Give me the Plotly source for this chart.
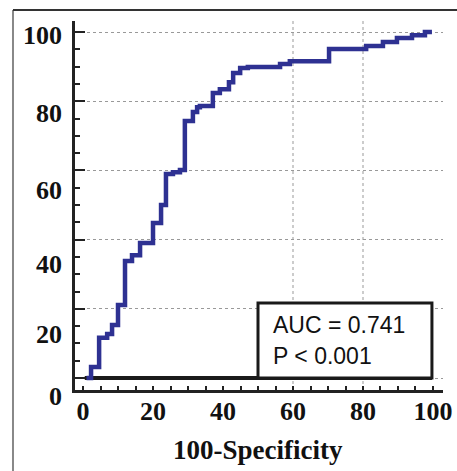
import plotly.graph_objects as go

# ROC curve (step points: 100-Specificity, Sensitivity)
fpr = [1.0, 2.3, 4.6, 6.9, 8.3, 10.0, 12.0, 14.0, 16.3, 20.0, 22.3, 23.7, 25.7,
       27.7, 29.1, 31.4, 32.6, 33.4, 37.1, 39.1, 41.7, 42.9, 44.9, 47.1, 56.3,
       59.1, 70.3, 80.9, 85.7, 89.7, 94.0, 97.7, 99.7]
tpr = [0.0, 3.2, 11.6, 12.7, 15.3, 21.1, 33.8, 35.5, 39.0, 44.8, 50.0, 59.0, 59.5,
       60.1, 74.3, 76.9, 78.3, 78.6, 82.4, 83.5, 85.5, 88.2, 89.6, 89.9, 90.8,
       91.6, 95.1, 96.0, 97.1, 98.3, 99.1, 100.0, 100.0]

x_ticks = [0, 20, 40, 60, 80, 100]
x_tick_labels = ["0", "20", "40", "60", "80", "100"]
y_ticks = [0, 20, 40, 60, 80, 100]
y_tick_labels = ["100", "80", "60", "40", "20", "0"]
y_label_pos = [99.1, 76.6, 54.3, 32.7, 12.7, -5.3]
x_grid_vertical = [60, 80]

auc_text = "AUC = 0.741"
p_text = "P < 0.001"
x_title = "100-Specificity"

XR = [-2.29, 102.86]
YR = [-3.47, 103.2]

W, H = 457, 471
M = dict(l=75, r=14, t=21, b=81)
px_per_unit_y = (H - M["t"] - M["b"]) / (YR[1] - YR[0])

serif = "Liberation Serif, Times New Roman, serif"
axis_col = "#222222"

fig = go.Figure()
fig.add_trace(go.Scatter(x=fpr, y=tpr, mode="lines", line=dict(color="#2E3192", width=4.5, shape="hv"),
                         showlegend=False, hoverinfo="skip"))

shapes = []
for gx in x_grid_vertical:
    shapes.append(dict(type="line", xref="x", yref="y", x0=gx, x1=gx, y0=YR[0], y1=YR[1],
                       line=dict(color="#999999", width=1, dash="dot"), layer="below"))
# black baseline at y=0
shapes.append(dict(type="line", xref="x", yref="y", x0=0.5, x1=99.7, y0=0, y1=0,
                   line=dict(color="#1a1a1a", width=4), layer="between"))
# AUC box
shapes.append(dict(type="rect", xref="x", yref="y", x0=50, x1=99.7, y0=0, y1=21.7,
                   line=dict(color="#1a1a1a", width=3), fillcolor="white", layer="above"))
# outer frame
shapes.append(dict(type="line", xref="paper", yref="paper", x0=-0.1685, x1=-0.1685, y0=-0.25, y1=1.0298,
                   line=dict(color="#888888", width=2)))
shapes.append(dict(type="line", xref="paper", yref="paper", x0=-0.1685, x1=1.1, y0=1.0298, y1=1.0298,
                   line=dict(color="#333333", width=2)))

annotations = [
    dict(x=53.7, y=15.2, xref="x", yref="y", text=auc_text, showarrow=False, xanchor="left", yanchor="middle",
         font=dict(family="Liberation Sans, Arial, sans-serif", size=23, color="#111111")),
    dict(x=53.7, y=6.4, xref="x", yref="y", text=p_text, showarrow=False, xanchor="left", yanchor="middle",
         font=dict(family="Liberation Sans, Arial, sans-serif", size=23, color="#111111")),
    dict(x=0.496, y=-0.1626, xref="paper", yref="paper", text="<b>%s</b>" % x_title, showarrow=False,
         xanchor="center", yanchor="middle", font=dict(family=serif, size=27, color="#111111")),
]
# y tick labels (offset from the grid as in the original figure)
for lab, pos in zip(y_tick_labels, y_label_pos):
    anchor = min(max(pos, 0), 100)
    annotations.append(dict(x=0, y=anchor, xref="paper", yref="y", text="<b>%s</b>" % lab, showarrow=False,
                            xanchor="right", yanchor="middle", xshift=-11,
                            yshift=(pos - anchor) * px_per_unit_y,
                            font=dict(family=serif, size=26, color="#111111")))

fig.update_layout(
    width=W, height=H,
    margin=dict(**M, autoexpand=False),
    paper_bgcolor="white", plot_bgcolor="white",
    shapes=shapes, annotations=annotations,
    xaxis=dict(range=XR, showgrid=False, zeroline=False, showline=True, linewidth=3, linecolor=axis_col,
               automargin=False,
               tickmode="array", tickvals=x_ticks, ticktext=["<b>%s</b>" % t for t in x_tick_labels],
               ticks="inside", ticklen=4, tickwidth=2, tickcolor=axis_col, ticklabelstandoff=-4,
               tickfont=dict(family=serif, size=26, color="#111111"),
               minor=dict(dtick=5, tick0=0, ticks="inside", ticklen=4, tickwidth=1.5, tickcolor=axis_col, showgrid=False)),
    yaxis=dict(range=YR, showgrid=True, gridcolor="#999999", gridwidth=1, griddash="dot", zeroline=False,
               showline=True, linewidth=3, linecolor=axis_col, automargin=False,
               tickmode="array", tickvals=y_ticks, showticklabels=False,
               ticks="inside", ticklen=10, tickwidth=2, tickcolor=axis_col,
               minor=dict(dtick=5, tick0=0, ticks="inside", ticklen=5, tickwidth=1.5, tickcolor=axis_col, showgrid=False)),
)

fig.write_html("out.html", config={"displayModeBar": False},
               post_script="document.body.style.margin='0';document.body.style.padding='0';")
